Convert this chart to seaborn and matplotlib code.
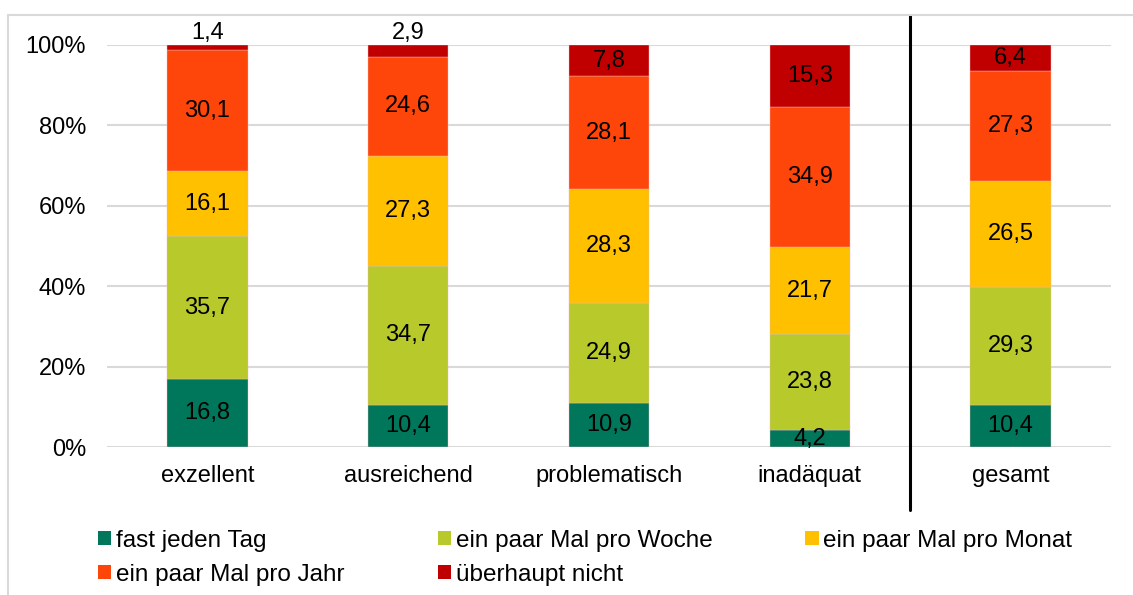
import numpy as np
import pandas as pd
import matplotlib
matplotlib.use('Agg')
import matplotlib.pyplot as plt
import matplotlib.transforms as mtransforms
from matplotlib.patches import Patch
from matplotlib.lines import Line2D
import seaborn as sns

categories = ['exzellent', 'ausreichend', 'problematisch', 'inadäquat', 'gesamt']
series = ['fast jeden Tag', 'ein paar Mal pro Woche', 'ein paar Mal pro Monat',
          'ein paar Mal pro Jahr', 'überhaupt nicht']
fast_jeden_tag = [16.8, 10.4, 10.9, 4.2, 10.4]
pro_woche = [35.7, 34.7, 24.9, 23.8, 29.3]
pro_monat = [16.1, 27.3, 28.3, 21.7, 26.5]
pro_jahr = [30.1, 24.6, 28.1, 34.9, 27.3]
ueberhaupt_nicht = [1.4, 2.9, 7.8, 15.3, 6.4]
colors = ['#00765A', '#B7C92B', '#FFC000', '#FF460A', '#C00000']

values = [fast_jeden_tag, pro_woche, pro_monat, pro_jahr, ueberhaupt_nicht]

sns.set_style('white')
plt.rcParams['font.family'] = ['Liberation Sans', 'DejaVu Sans']
plt.rcParams['text.color'] = 'black'
plt.rcParams['xtick.color'] = 'black'
plt.rcParams['ytick.color'] = 'black'
fs = 17

fig, ax = plt.subplots(figsize=(11.33, 5.95), dpi=100)
fig.subplots_adjust(left=0.0944, right=0.9806, top=0.9244, bottom=0.2487)

# stacked bars, one seaborn call per answer category
bottom = np.zeros(len(categories))
for name, vals, col in zip(series, values, colors):
    df = pd.DataFrame({'Kategorie': categories, 'Wert': vals})
    sns.barplot(data=df, x='Kategorie', y='Wert', color=col, width=0.4,
                bottom=bottom, edgecolor='#F2B8B8', linewidth=0.3, ax=ax,
                saturation=1, zorder=3)
    for i, v in enumerate(vals):
        label = f'{v:.1f}'.replace('.', ',')
        if v < 3:
            # tiny segments: label sits on top of the bar
            ax.text(i, 100.2, label, ha='center', va='bottom', fontsize=fs, zorder=4)
        else:
            ax.text(i, bottom[i] + v / 2, label, ha='center', va='center', fontsize=fs, zorder=4)
    bottom = bottom + np.array(vals)

ax.set_ylim(0, 100)
ax.set_xlim(-0.5, len(categories) - 0.5)
ax.set_yticks(np.arange(0, 101, 20))
ax.set_yticklabels([f'{t}%' for t in range(0, 101, 20)])
ax.set_xlabel('')
ax.set_ylabel('')
ax.yaxis.grid(True, color='#D9D9D9', linewidth=1.5, zorder=0)
ax.set_axisbelow(True)
for s in ax.spines.values():
    s.set_visible(False)
ax.tick_params(axis='y', length=0, pad=15, labelsize=fs)
ax.tick_params(axis='x', length=0, pad=13, labelsize=fs)

# black separator between single groups and total
trans = mtransforms.blended_transform_factory(ax.transData, ax.transAxes)
ax.add_line(Line2D([3.5, 3.5], [1.075, -0.157], transform=trans, color='black',
                   linewidth=2.2, clip_on=False, zorder=5))

# light frame around the chart
fig.add_artist(Line2D([8 / 1133, 1.0], [1 - 15 / 595, 1 - 15 / 595], transform=fig.transFigure,
                      color='#D9D9D9', linewidth=1.5))
fig.add_artist(Line2D([8 / 1133, 8 / 1133], [1 - 15 / 595, 0.0], transform=fig.transFigure,
                      color='#D9D9D9', linewidth=1.5))

handles = [Patch(facecolor=c, edgecolor='none', label=s) for s, c in zip(series, colors)]
order = [0, 3, 1, 4, 2]
fig.legend([handles[i] for i in order], [series[i] for i in order], ncol=3,
           loc='upper left', bbox_to_anchor=(98 / 1133, 0.110), frameon=False, fontsize=17.5,
           handlelength=0.54, handleheight=0.54, handletextpad=0.2, columnspacing=3.83,
           labelspacing=0.5, borderaxespad=0, borderpad=0)

fig.savefig('out.png', dpi=100)
